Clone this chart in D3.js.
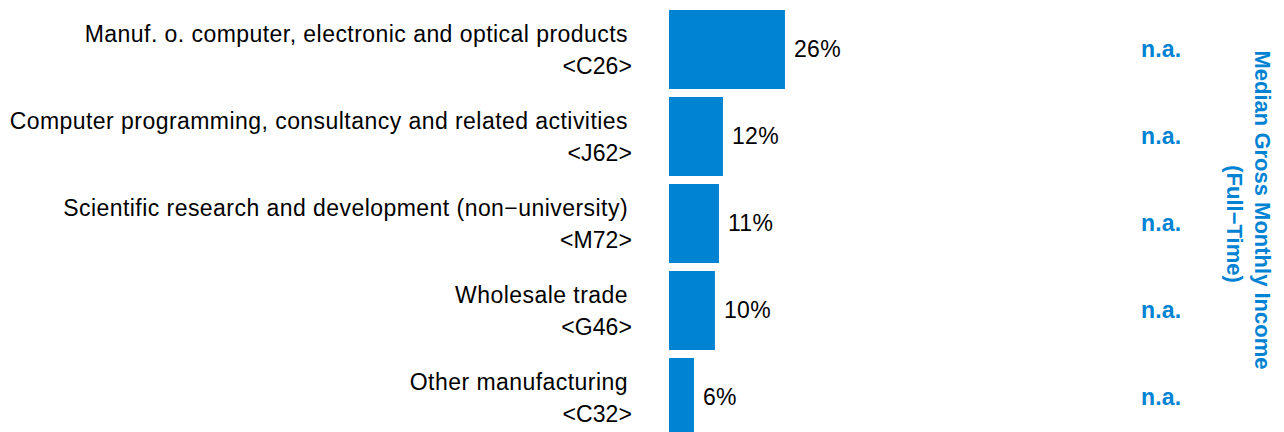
<!DOCTYPE html>
<html>
<head>
<meta charset="utf-8">
<script src="https://cdn.jsdelivr.net/npm/d3@7"></script>
<style>
    body { margin: 0; background: #ffffff; }
    svg { display: block; font-family: "Liberation Sans", Arial, sans-serif; }
</style>
</head>
<body>
<script>
// Datos del gráfico
const industries = [
    "Manuf. o. computer, electronic and optical products",
    "Computer programming, consultancy and related activities",
    "Scientific research and development (non\u2212university)",
    "Wholesale trade",
    "Other manufacturing"
];
const codes = ["<C26>", "<J62>", "<M72>", "<G46>", "<C32>"];
const shares = [26.0, 12.1, 11.2, 10.3, 5.6];
const incomeLabels = ["n.a.", "n.a.", "n.a.", "n.a.", "n.a."];
const incomeTitle = ["Median Gross Monthly Income", "(Full\u2212Time)"];

const WIDTH = 1284,
      HEIGHT = 432;

const blue = "#0083d3";

let svg = d3.select("body").append("svg")
    .attr("width", WIDTH)
    .attr("height", HEIGHT);

let data = industries.map((name, i) => ({
    name: name,
    code: codes[i],
    share: shares[i],
    income: incomeLabels[i]
}));

// Escalas
let yScale = d3.scaleBand()
    .domain(industries)
    .range([6, 441])
    .paddingInner(0.092)
    .paddingOuter(0.046);

let xScale = d3.scaleLinear()
    .domain([0, 100])
    .range([669, 1115]);

let rows = svg.selectAll("g.row")
    .data(data)
    .enter().append("g")
        .attr("class", "row")
        .attr("transform", d => "translate(0," + yScale(d.name) + ")");

let bw = yScale.bandwidth();

rows.append("rect")
    .attr("x", xScale(0))
    .attr("y", 0)
    .attr("width", d => xScale(d.share) - xScale(0))
    .attr("height", bw)
    .attr("fill", blue);

// Etiquetas de categorías (dos líneas)
rows.append("text")
    .attr("x", 628)
    .attr("y", bw / 2 - 7)
    .attr("text-anchor", "end")
    .attr("font-size", 23)
    .attr("letter-spacing", 0.45)
    .attr("fill", "#000")
    .text(d => d.name);

rows.append("text")
    .attr("x", 632)
    .attr("y", bw / 2 + 25)
    .attr("text-anchor", "end")
    .attr("font-size", 23)
    .attr("letter-spacing", 0.1)
    .attr("fill", "#000")
    .text(d => d.code);

// Valores
rows.append("text")
    .attr("x", d => xScale(d.share) + 9)
    .attr("y", bw / 2 + 8)
    .attr("font-size", 23)
    .attr("letter-spacing", 0.35)
    .attr("fill", "#000")
    .text(d => d3.format(".0f")(d.share) + "%");

rows.append("text")
    .attr("x", 1141)
    .attr("y", bw / 2 + 8)
    .attr("font-size", 23)
    .attr("font-weight", "bold")
    .attr("letter-spacing", 0.2)
    .attr("fill", blue)
    .text(d => d.income);

// Título vertical a la derecha
svg.append("text")
    .attr("transform", "translate(1255,210) rotate(90)")
    .attr("text-anchor", "middle")
    .attr("font-size", 22)
    .attr("font-weight", "bold")
    .attr("fill", blue)
    .text(incomeTitle[0]);

svg.append("text")
    .attr("transform", "translate(1227,224) rotate(90)")
    .attr("text-anchor", "middle")
    .attr("font-size", 22)
    .attr("font-weight", "bold")
    .attr("fill", blue)
    .text(incomeTitle[1]);
</script>
</body>
</html>
